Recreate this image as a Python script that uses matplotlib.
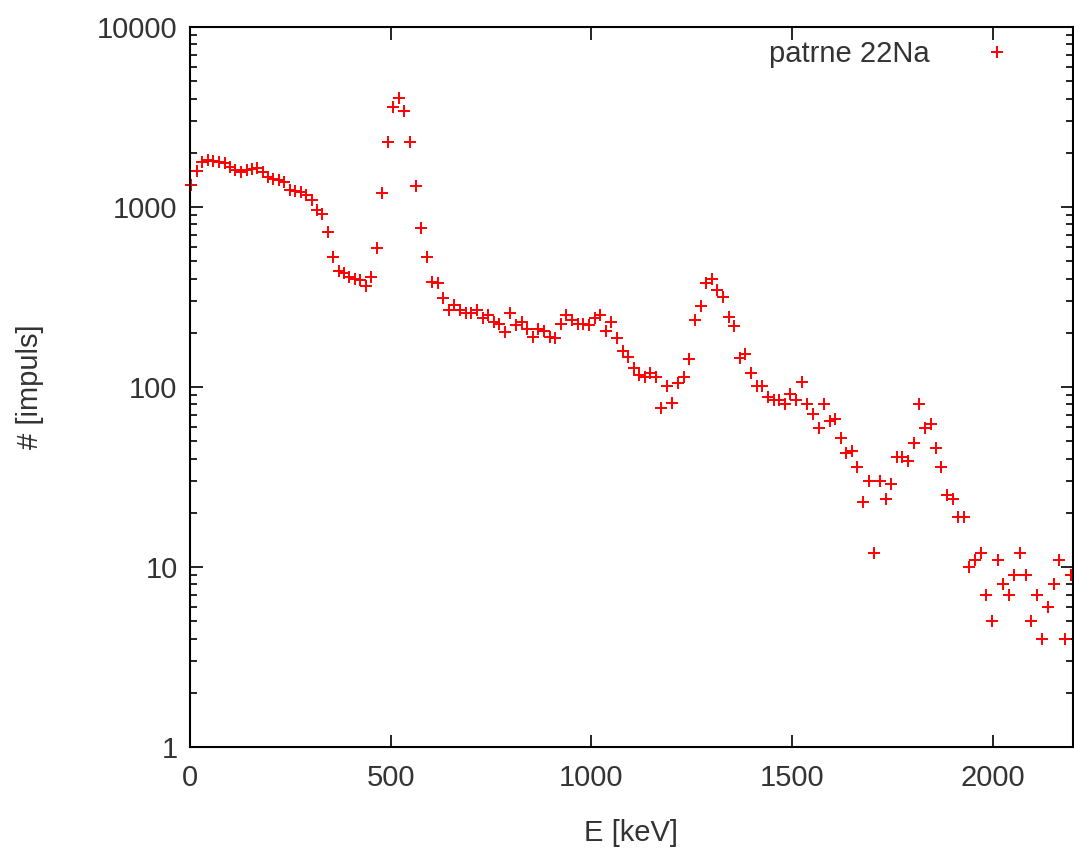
import matplotlib
matplotlib.use('Agg')
import matplotlib.pyplot as plt
from matplotlib.ticker import LogLocator, FixedLocator, NullFormatter

plt.rcParams['font.family'] = ['Liberation Sans', 'DejaVu Sans']

# energy of each channel [keV] and counts
energy = [3, 17, 31, 45, 58, 72, 86, 100, 113, 127,
          141, 154, 168, 181, 195, 208, 222, 235, 249, 262,
          276, 289, 303, 316, 330, 343, 357, 370, 384, 397,
          411, 424, 438, 452, 465, 479, 493, 507, 521, 534,
          548, 562, 576, 590, 604, 617, 631, 645, 659, 673,
          687, 701, 715, 729, 743, 757, 770, 784, 798, 812,
          826, 840, 854, 868, 882, 896, 910, 924, 938, 952,
          966, 980, 994, 1008, 1022, 1036, 1050, 1064, 1078, 1092,
          1105, 1119, 1133, 1147, 1160, 1174, 1188, 1202, 1216, 1230,
          1244, 1258, 1272, 1286, 1300, 1314, 1328, 1342, 1356, 1370,
          1384, 1398, 1412, 1426, 1440, 1454, 1468, 1482, 1496, 1510,
          1524, 1538, 1552, 1566, 1580, 1594, 1608, 1621, 1635, 1649,
          1663, 1677, 1691, 1705, 1719, 1733, 1747, 1761, 1775, 1789,
          1803, 1817, 1831, 1845, 1859, 1872, 1886, 1900, 1914, 1928,
          1942, 1956, 1970, 1984, 1998, 2012, 2026, 2040, 2054, 2068,
          2082, 2096, 2110, 2124, 2138, 2152, 2166, 2180, 2194]

counts = [1320, 1590, 1780, 1820, 1800, 1770, 1760, 1660, 1600, 1570,
          1600, 1620, 1640, 1560, 1470, 1430, 1420, 1380, 1240, 1220,
          1210, 1170, 1100, 960, 920, 730, 530, 440, 430, 410,
          397, 393, 364, 410, 590, 1190, 2300, 3600, 4050, 3430,
          2300, 1300, 767, 530, 385, 377, 311, 268, 285, 268,
          257, 257, 268, 241, 250, 230, 225, 203, 257, 220,
          230, 210, 190, 210, 205, 190, 188, 225, 250, 236,
          225, 225, 220, 241, 250, 205, 230, 186, 159, 147,
          127, 117, 113, 119, 114, 76, 101, 81, 105, 114,
          143, 236, 283, 379, 400, 345, 315, 246, 218, 144,
          152, 120, 101, 101, 88, 85, 85, 80, 92, 85,
          107, 80, 71, 59, 80, 65, 66, 52, 43, 44,
          36, 23, 30, 12, 30, 24, 29, 41, 41, 39,
          49, 80, 59, 62, 46, 36, 25, 24, 19, 19,
          10, 11, 12, 7, 5, 11, 8, 7, 9, 12,
          9, 5, 7, 4, 6, 8, 11, 4, 9]

x_ticks = [0, 500, 1000, 1500, 2000]
y_ticks = [1, 10, 100, 1000, 10000]
y_labels = ['1', '10', '100', '1000', '10000']

txt = '#333333'
fs = 21

fig = plt.figure(figsize=(10.74, 8.49), dpi=100)
ax = fig.add_axes([190 / 1074, 1 - 747 / 849, (1073 - 190) / 1074, (747 - 27) / 849])

ax.plot(energy, counts, linestyle='none', marker='+', color='#ff0000',
        markersize=9, markeredgewidth=1.4, label='patrne 22Na', clip_on=False)

ax.set_yscale('log')
ax.set_xlim(0, 2200)
ax.set_ylim(1, 10000)

ax.xaxis.set_major_locator(FixedLocator(x_ticks))
ax.set_yticks(y_ticks)
ax.set_yticklabels(y_labels)
ax.yaxis.set_minor_locator(LogLocator(base=10, subs=range(2, 10)))
ax.yaxis.set_minor_formatter(NullFormatter())

ax.tick_params(which='both', direction='in', top=True, right=True,
               labelsize=fs, labelcolor=txt, color='black', width=1.2)
ax.tick_params(which='major', length=9)
ax.tick_params(which='minor', length=5)
ax.tick_params(axis='x', which='major', pad=12)
ax.tick_params(axis='y', which='major', pad=9)
for s in ax.spines.values():
    s.set_linewidth(1.5)

ax.set_xlabel('E [keV]', fontsize=fs, color=txt, labelpad=20)
ax.set_ylabel('# [impuls]', fontsize=fs, color=txt, labelpad=38)

ax.legend(loc='upper right', bbox_to_anchor=(0.94, 0.982), frameon=False,
          markerfirst=False, numpoints=1, fontsize=fs, handlelength=1.6,
          handletextpad=1.5, borderaxespad=0, borderpad=0, labelcolor=txt)

fig.savefig('out.png', dpi=100)
